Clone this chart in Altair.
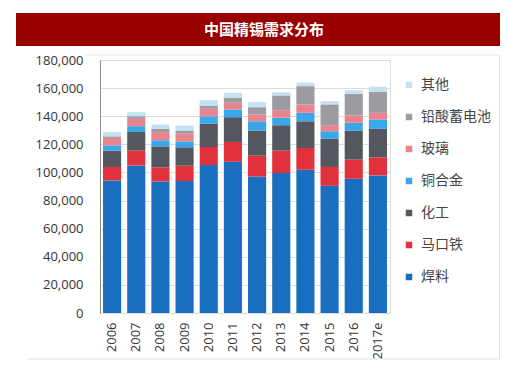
import altair as alt
import pandas as pd

years = ["2006", "2007", "2008", "2009", "2010", "2011", "2012", "2013", "2014", "2015", "2016", "2017e"]
solder = [94300, 105000, 93600, 93900, 105300, 107600, 97100, 99600, 101900, 90500, 95500, 97900]
tinplate = [9600, 10500, 10000, 10900, 12800, 14100, 14800, 15900, 15500, 13400, 13600, 12800]
chemical = [11600, 13300, 15000, 13100, 16700, 17600, 17900, 18100, 19000, 20000, 20700, 20300]
copper_alloy = [3800, 4100, 4300, 4200, 5200, 5500, 6600, 5300, 6000, 5400, 5500, 6600]
glass = [5300, 5200, 5900, 5500, 5300, 4800, 4800, 5400, 6000, 4300, 5200, 4800]
lead_acid = [1100, 1900, 2200, 2200, 2300, 3500, 5200, 10500, 13000, 14800, 15500, 15000]
other = [3100, 2900, 3100, 3600, 3800, 3600, 3600, 2300, 2500, 2300, 2400, 3600]

series_names = ["焊料", "马口铁", "化工", "铜合金", "玻璃", "铅酸蓄电池", "其他"]
series_vals = [solder, tinplate, chemical, copper_alloy, glass, lead_acid, other]
series_colors = ["#1a6ec0", "#e0313c", "#54585e", "#3aa7ea", "#e9838d", "#9c9ca0", "#c4e1f2"]

rows = []
for k, (name, vals) in enumerate(zip(series_names, series_vals)):
    for y, v in zip(years, vals):
        rows.append({"year": y, "series": name, "value": v, "rank": k})
df = pd.DataFrame(rows)

legend_order = series_names[::-1]
legend_colors = series_colors[::-1]

bars = alt.Chart(df).mark_bar().encode(
    x=alt.X("year:N", sort=years, title=None,
            scale=alt.Scale(paddingInner=0.25, paddingOuter=0.125),
            axis=alt.Axis(labelAngle=270, labelFontSize=13, labelColor="#333333",
                          labelFont="Open Sans", ticks=False, domain=False,
                          labelPadding=9, labelBaseline="middle")),
    y=alt.Y("value:Q", title=None, stack="zero",
            scale=alt.Scale(domain=[0, 180000]),
            axis=alt.Axis(values=list(range(0, 180001, 20000)), format=",.0f",
                          labelFontSize=13, labelColor="#333333", labelFont="Open Sans",
                          ticks=False, labelPadding=17, domainColor="#8c8c8c",
                          gridColor="#dcdcdc")),
    color=alt.Color("series:N",
                    scale=alt.Scale(domain=legend_order, range=legend_colors),
                    legend=alt.Legend(title=None, orient="none", legendX=302, legendY=18,
                                      symbolType="square", symbolSize=42,
                                      symbolStrokeWidth=0,
                                      labelFont="Noto Sans CJK SC", labelFontSize=14,
                                      labelColor="#444444", labelOffset=5,
                                      labelLimit=200, rowPadding=18)),
    order=alt.Order("rank:Q", sort="ascending"),
)

title_bar = alt.Chart(pd.DataFrame({"t": ["中国精锡需求分布"]})).mark_rect(
    color="#990000").encode(
    x=alt.value(-84), x2=alt.value(400), y=alt.value(-47), y2=alt.value(-14))

title_text = alt.Chart(pd.DataFrame({"t": ["中国精锡需求分布"]})).mark_text(
    color="white", fontSize=15, fontWeight="bold", font="Noto Sans CJK SC",
    align="center", baseline="middle").encode(
    text="t:N", x=alt.value(164), y=alt.value(-30))

frame_bottom = alt.Chart(pd.DataFrame({"a": [0]})).mark_rule(color="#e3e3e3").encode(
    x=alt.value(-73), x2=alt.value(400), y=alt.value(299))
frame_right = alt.Chart(pd.DataFrame({"a": [0]})).mark_rule(color="#e3e3e3").encode(
    x=alt.value(399.5), y=alt.value(-5), y2=alt.value(299))
frame_top = alt.Chart(pd.DataFrame({"a": [0]})).mark_rule(color="#e8e8e8").encode(
    x=alt.value(-17), x2=alt.value(400), y=alt.value(-5))

chart = alt.layer(bars, title_bar, title_text, frame_bottom, frame_right, frame_top).properties(
    width=290, height=253,
    autosize=alt.AutoSizeParams(type="none"),
    padding={"left": 92, "top": 52, "right": 110, "bottom": 54},
).configure_view(stroke=None).configure(background="white")

chart.save("out.html", embed_options={"renderer": "svg", "actions": False})
